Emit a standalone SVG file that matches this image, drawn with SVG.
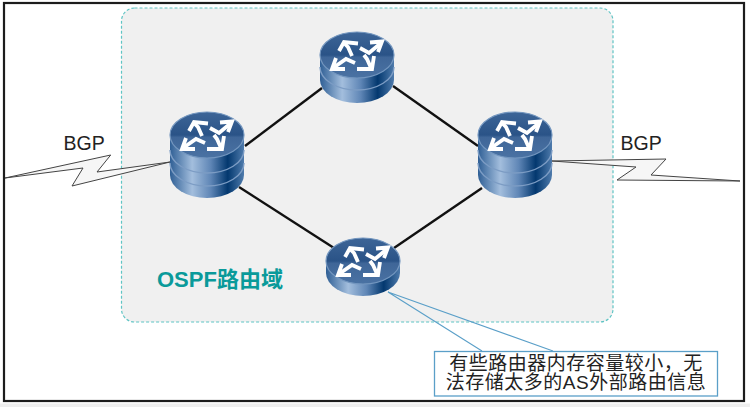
<svg xmlns="http://www.w3.org/2000/svg" width="750" height="407" viewBox="0 0 750 407">
<style>
.link{stroke:#111;stroke-width:2.4;fill:none}
.zap{fill:#f6f6f6;stroke:#444;stroke-width:1}
.lbl{font-family:"Liberation Sans",Arial,sans-serif;font-size:19.5px;fill:#222}
.cn{font-family:"Liberation Sans","Noto Sans CJK SC",sans-serif;font-size:19px;letter-spacing:.5px;fill:#222}
.ospf{font-family:"Liberation Sans","Noto Sans CJK SC",sans-serif;font-size:22px;font-weight:bold;fill:#0a9a9a}
.seam{fill:none;stroke:#7c9cc4;stroke-width:1.4}
</style>
<defs>
<linearGradient id="side" x1="0" x2="1" y1="0" y2="0">
<stop offset="0" stop-color="#2f5f95"/><stop offset="0.3" stop-color="#a3bedd"/><stop offset="0.55" stop-color="#5f86b6"/><stop offset="0.78" stop-color="#03386f"/><stop offset="1" stop-color="#4f7bac"/>
</linearGradient>
<linearGradient id="disc" x1="0" x2="0" y1="0" y2="1">
<stop offset="0" stop-color="#3d6597"/><stop offset="0.5" stop-color="#2a5387"/><stop offset="0.55" stop-color="#3f6698"/><stop offset="1" stop-color="#4a72a3"/>
</linearGradient>
<g id="top">
<ellipse cx="0" cy="0" rx="37" ry="23" fill="url(#disc)" stroke="#7396bf" stroke-width="1.200"/>
<g fill="none" stroke="#fff" stroke-width="3.800" stroke-linejoin="miter">
<path d="M-5,1 L-9,-8 L-14,-13"/>
<path d="M-18,-4 L-13,-13 L1,-11.500"/>
<path d="M3,-7 L12,-2 L24,-12"/>
<path d="M13,-12.500 L25,-13.500 L21,-3"/>
<path d="M-24,13 L-11,4 L-2,8"/>
<path d="M-21,3 L-25,14 L-12,14"/>
<path d="M7,0 L10,4 L14,13"/>
<path d="M17,1 L15,14 L0,14"/>
</g>
</g>
</defs>
<rect width="750" height="407" fill="#fff"/>
<rect x="0" y="403.500" width="750" height="3.500" fill="#eeeeee"/>
<rect x="4" y="3" width="740" height="398" fill="#fff" stroke="#1c1c1c" stroke-width="2.200"/>
<rect id="ospf-domain" x="121.500" y="8" width="491.500" height="314" rx="13" fill="#f0f0f0" stroke="#5fc4c4" stroke-width="1.200" stroke-dasharray="3 2"/>
<g id="connectors">
<line class="link" x1="322" y1="88" x2="245" y2="146"/>
<line class="link" x1="393" y1="86" x2="478" y2="146"/>
<line class="link" x1="239" y1="187" x2="334" y2="248"/>
<line class="link" x1="394" y1="248" x2="482" y2="188"/>
<path id="bgp-left" class="zap" d="M5,178 L110.700,155 L97,172 L170,162 L72,186 L83,168 Z"/>
<path id="bgp-right" class="zap" d="M552,161 L666,159 L651,175 L740,181 L617,180 L636,167 Z"/>
</g>
<g id="router-top">
<path d="M320,55 V80 A37,23 0 0 0 394,80 V55 Z" fill="url(#side)"/>
<path class="seam" d="M320,67 A37,23 0 0 0 394,67"/>
<use href="#top" x="357" y="55"/>
</g>
<g id="router-left">
<path d="M170,135 V175 A37,23 0 0 0 244,175 V135 Z" fill="url(#side)"/>
<path class="seam" d="M170,150 A37,23 0 0 0 244,150"/>
<path class="seam" d="M170,163 A37,23 0 0 0 244,163"/>
<use href="#top" x="207" y="135"/>
</g>
<g id="router-right">
<path d="M478,135 V175 A37,23 0 0 0 552,175 V135 Z" fill="url(#side)"/>
<path class="seam" d="M478,150 A37,23 0 0 0 552,150"/>
<path class="seam" d="M478,163 A37,23 0 0 0 552,163"/>
<use href="#top" x="515" y="135"/>
</g>
<g id="router-bottom">
<path d="M326,261 V273 A37,23 0 0 0 400,273 V261 Z" fill="url(#side)"/>
<use href="#top" x="363" y="261"/>
</g>
<text class="lbl" x="63.500" y="150">BGP</text>
<text class="lbl" x="620.500" y="150">BGP</text>
<text class="ospf" x="157" y="287">OSPF路由域</text>
<g id="callout">
<path d="M482,351 L388,292 L553,351" fill="none" stroke="#5a9fc8" stroke-width="1.100"/>
<rect x="434.500" y="351.500" width="283" height="44.500" fill="#fff" stroke="#5a9fc8" stroke-width="1.300"/>
<text class="cn" x="576" y="369.500" text-anchor="middle">有些路由器内存容量较小，无</text>
<text class="cn" x="576" y="388.800" text-anchor="middle">法存储太多的AS外部路由信息</text>
</g>
</svg>
